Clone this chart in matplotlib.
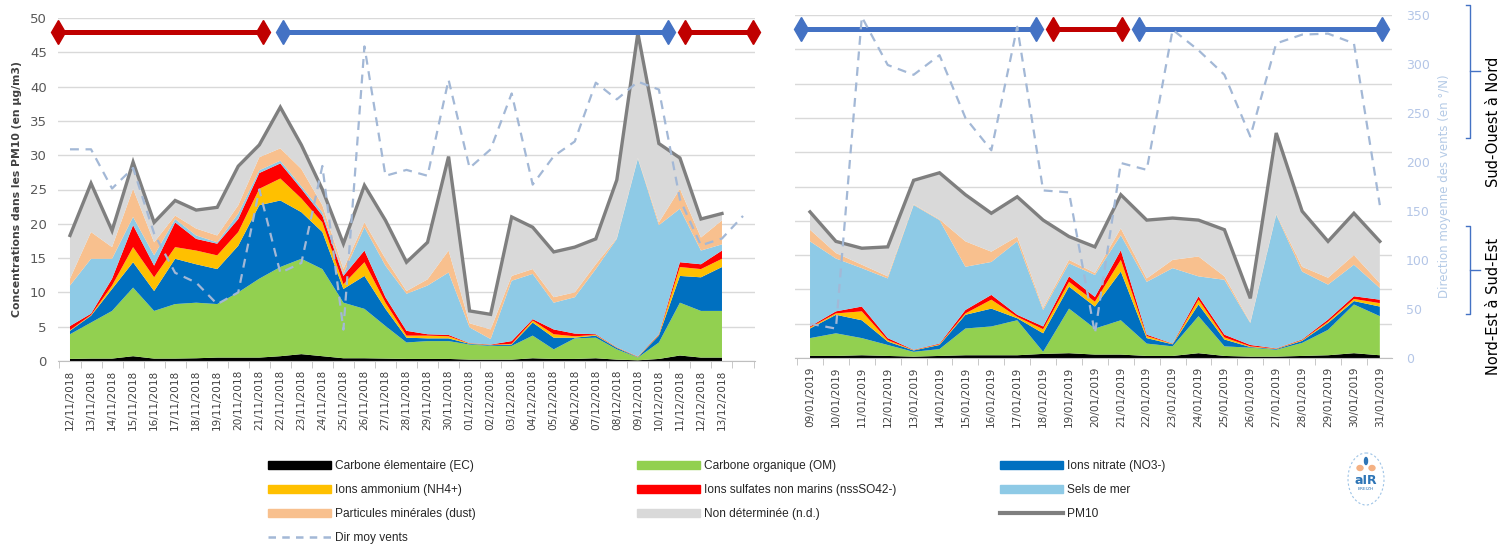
import matplotlib
matplotlib.use("Agg")
import matplotlib.pyplot as plt
import matplotlib.transforms as mtransforms
from matplotlib.lines import Line2D
from matplotlib.patches import Patch, Ellipse
import numpy as np
import pandas as pd

# ---- categories -----------------------------------------------------------
dates_left = list(pd.date_range("2018-11-12", "2018-12-13").strftime("%d/%m/%Y"))
dates_right = list(pd.date_range("2019-01-09", "2019-01-31").strftime("%d/%m/%Y"))

# ---- left period (µg/m3 per component) ------------------------------------
ec_l = [0.3, 0.35, 0.35, 0.7, 0.35, 0.35, 0.4, 0.5, 0.5, 0.5, 0.7, 1.0, 0.7, 0.4, 0.4, 0.35,
        0.3, 0.3, 0.3, 0.2, 0.2, 0.2, 0.4, 0.3, 0.3, 0.4, 0.2, 0.1, 0.3, 0.8, 0.5, 0.5]
om_l = [3.6, 5.25, 6.95, 10.0, 6.95, 7.95, 8.1, 7.8, 9.5, 11.5, 13.0, 13.9, 12.7, 8.1, 7.2, 4.75,
        2.4, 2.6, 2.6, 2.2, 2.0, 2.0, 3.3, 1.4, 3.0, 3.0, 1.5, 0.4, 2.4, 7.7, 6.8, 6.8]
no3_l = [0.5, 1.0, 3.2, 3.7, 2.9, 6.6, 5.6, 5.1, 6.8, 10.7, 9.7, 6.8, 5.4, 2.0, 4.8, 2.5,
         0.7, 0.4, 0.4, 0.1, 0.1, 0.2, 1.9, 1.7, 0.1, 0.3, 0.2, 0.05, 1.0, 3.9, 4.9, 6.4]
nh4_l = [0.1, 0.1, 0.5, 2.2, 2.0, 1.7, 2.0, 2.0, 2.0, 2.4, 3.2, 2.0, 1.4, 0.7, 2.0, 0.9,
         0.3, 0.4, 0.3, 0.05, 0.05, 0.1, 0.3, 0.5, 0.2, 0.1, 0.05, 0.05, 0.1, 1.3, 1.2, 1.2]
so4_l = [0.6, 0.2, 1.0, 3.2, 1.7, 3.6, 1.7, 1.7, 1.9, 2.3, 2.2, 1.4, 1.0, 1.2, 1.7, 0.8,
         0.7, 0.2, 0.2, 0.05, 0.05, 0.4, 0.2, 0.7, 0.4, 0.1, 0.05, 0.05, 0.1, 0.7, 0.7, 1.2]
sel_l = [5.9, 8.0, 2.9, 1.2, 1.5, 0.5, 0.5, 0.2, 0.8, 0.4, 0.4, 0.4, 0.5, 0.3, 3.4, 4.6,
         5.4, 7.1, 9.1, 2.3, 0.8, 8.8, 6.6, 3.9, 5.3, 9.5, 15.8, 28.85, 15.9, 7.8, 2.0, 0.9]
dust_l = [1.0, 3.9, 1.7, 4.1, 1.9, 0.5, 1.0, 1.0, 1.2, 1.9, 1.8, 2.5, 1.0, 0.7, 0.7, 1.0,
          0.4, 0.9, 3.2, 0.6, 1.4, 0.7, 0.7, 0.8, 0.7, 0.7, 0.1, 0.1, 0.4, 2.9, 1.9, 3.5]
nd_l = [6.3, 7.1, 2.4, 3.9, 2.9, 2.2, 2.7, 4.1, 5.7, 1.8, 6.0, 3.5, 2.3, 3.7, 5.4, 5.6,
        4.2, 5.4, 13.7, 1.8, 2.2, 8.6, 6.1, 6.6, 6.6, 3.7, 8.5, 18.2, 11.5, 4.5, 2.7, 1.0]
wind_l = [216, 216, 176, 197, 130, 90, 80, 58, 70, 175, 90, 100, 199, 32, 321, 189, 195,
          189, 287, 197, 216, 273, 180, 209, 224, 284, 267, 285, 277, 165, 118, 125, 148]

# ---- right period ---------------------------------------------------------
ec_r = [0.3, 0.3, 0.4, 0.3, 0.2, 0.3, 0.4, 0.4, 0.4, 0.6, 0.7, 0.5, 0.5, 0.3, 0.3, 0.7,
        0.3, 0.2, 0.2, 0.3, 0.4, 0.7, 0.4]
om_r = [2.6, 3.3, 2.5, 1.6, 0.7, 1.0, 3.9, 4.2, 5.1, 0.3, 6.5, 3.8, 5.0, 1.8, 1.4, 5.4,
        1.4, 1.3, 1.0, 1.9, 3.7, 7.1, 5.7]
no3_r = [1.4, 2.7, 2.6, 0.5, 0.2, 0.6, 2.0, 2.6, 0.3, 2.7, 3.2, 3.2, 7.1, 0.8, 0.3, 1.7,
         1.0, 0.1, 0.1, 0.3, 1.0, 0.5, 1.4]
nh4_r = [0.15, 0.2, 1.3, 0.2, 0.05, 0.1, 0.2, 1.3, 0.2, 0.6, 0.7, 0.7, 1.7, 0.3, 0.05, 0.7,
         0.3, 0.1, 0.05, 0.1, 0.2, 0.3, 0.5]
so4_r = [0.15, 0.3, 0.7, 0.3, 0.05, 0.1, 0.5, 0.7, 0.3, 0.4, 0.8, 0.7, 1.4, 0.2, 0.05, 0.5,
         0.4, 0.2, 0.05, 0.1, 0.3, 0.4, 0.5]
sel_r = [12.4, 7.7, 5.6, 8.7, 21.1, 18.0, 6.3, 4.8, 10.7, 2.4, 1.9, 3.2, 2.2, 7.7, 11.0, 2.9,
         8.0, 3.2, 19.5, 9.9, 5.1, 4.6, 1.7]
dust_r = [1.7, 0.8, 0.5, 0.3, 0.1, 0.1, 3.7, 1.5, 0.7, 0.3, 0.5, 0.3, 1.0, 0.5, 1.2, 2.9,
          0.5, 0.1, 0.1, 0.7, 1.0, 1.4, 0.7]
nd_r = [2.6, 1.7, 2.4, 4.3, 3.5, 6.8, 6.8, 5.6, 5.8, 12.8, 3.4, 3.8, 4.9, 8.5, 6.1, 5.3,
        6.8, 3.5, 11.8, 8.1, 5.3, 6.1, 6.1]
wind_r = [35, 30, 348, 299, 289, 309, 245, 212, 338, 171, 169, 25, 199, 192, 335, 314,
          289, 226, 321, 330, 331, 321, 156]

# wind regime periods (category positions): start, end, regime
periods_l = [(-0.57, 9.18, "SO-N"), (10.13, 28.44, "NE-SE"), (29.24, 32.48, "SO-N")]
periods_r = [(-0.35, 8.73, "NE-SE"), (9.38, 12.05, "SO-N"), (12.7, 22.08, "NE-SE")]

labels = ["Carbone élementaire (EC)", "Carbone organique (OM)", "Ions nitrate (NO3-)",
          "Ions ammonium (NH4+)", "Ions sulfates non marins (nssSO42-)", "Sels de mer",
          "Particules minérales (dust)", "Non déterminée (n.d.)"]
colors = ["#000000", "#92d050", "#0070c0", "#ffc000", "#ff0000", "#8ecae6",
          "#f8c08e", "#d9d9d9"]
period_colors = {"SO-N": "#c00000", "NE-SE": "#4472c4"}
PM_COLOR = "#7f7f7f"
WIND_COLOR = "#a3b8d6"
GRID = "#d9d9d9"

W, H = 1508, 548
fig = plt.figure(figsize=(W / 100, H / 100), dpi=100)


def px_rect(x0, y0, x1, y1):
    return [x0 / W, 1 - y1 / H, (x1 - x0) / W, (y1 - y0) / H]


def draw_panel(rect, xlim, dates, n_slots, layers, wind, periods, show_left, show_right):
    ax = fig.add_axes(rect)
    x = np.arange(len(layers[0]))
    ax.stackplot(x, *layers, colors=colors, linewidth=0)
    pm10 = np.sum(layers, axis=0)
    ax.plot(x, pm10, color=PM_COLOR, lw=2.4, solid_joinstyle="miter", zorder=5)
    for start, end, key in periods:
        ax.plot([start, end], [48, 48], color=period_colors[key], lw=3.6,
                marker="d", markersize=12, zorder=6, clip_on=False)
    ax.set_xlim(*xlim)
    ax.set_ylim(0, 50)
    ax.set_yticks(np.arange(0, 51, 5))
    ax.yaxis.grid(True, color=GRID, lw=1)
    ax.set_axisbelow(True)
    for side in ("left", "right", "top"):
        ax.spines[side].set_visible(False)
    ax.spines["bottom"].set_color("#bfbfbf")
    ax.set_xticks(np.arange(len(dates)))
    ax.set_xticklabels(dates, rotation=90, fontsize=7.6, color="#404040")
    ax.set_xticks(np.arange(n_slots + 1) - 0.5, minor=True)
    ax.tick_params(axis="x", which="major", length=0, pad=6)
    ax.tick_params(axis="x", which="minor", length=5, color="#bfbfbf")
    ax.tick_params(axis="y", length=0, labelsize=9.5, labelcolor="#595959", pad=8)
    if not show_left:
        ax.tick_params(axis="y", labelleft=False)

    ax2 = ax.twinx()
    ax2.plot(np.arange(len(wind)), wind, color=WIND_COLOR, lw=1.6, dashes=(4, 3))
    ax2.set_ylim(0, 350)
    ax2.set_xlim(*xlim)
    for s in ax2.spines.values():
        s.set_visible(False)
    if show_right:
        ax2.set_yticks(np.arange(0, 351, 50))
        ax2.tick_params(axis="y", length=0, labelsize=9, labelcolor="#b4c6e7", pad=10)
        ax2.set_ylabel("Direction moyenne des vents (en °/N)", color="#b4cae6",
                       fontsize=8.5, labelpad=6)
    else:
        ax2.set_yticks([])
    return ax, ax2


layers_l = [ec_l, om_l, no3_l, nh4_l, so4_l, sel_l, dust_l, nd_l]
layers_r = [ec_r, om_r, no3_r, nh4_r, so4_r, sel_r, dust_r, nd_r]

axl, _ = draw_panel(px_rect(58, 18, 755, 361), (-0.57, 32.57), dates_left, len(wind_l),
                    layers_l, wind_l, periods_l, True, False)
axl.set_ylabel("Concentrations dans les PM10 (en µg/m3)", fontsize=7.8, color="#404040",
               fontweight="bold", labelpad=6)

axr, axr2 = draw_panel(px_rect(795, 15, 1392, 358), (-0.58, 22.47), dates_right,
                       len(wind_r), layers_r, wind_r, periods_r, False, True)

# wind-sector brackets on the right
tr = mtransforms.blended_transform_factory(fig.transFigure, axr2.transData)
bx = 1470 / W
for lo, hi, txt, ty in [(225, 360, "Sud-Ouest à Nord", 122), (45, 135, "Nord-Est à Sud-Est", 306)]:
    mid = (lo + hi) / 2
    fig.add_artist(Line2D([bx - 4 / W, bx, bx, bx - 4 / W], [hi, hi, lo, lo],
                          transform=tr, color="#4472c4", lw=1))
    fig.add_artist(Line2D([bx, bx + 10 / W], [mid, mid], transform=tr,
                          color="#4472c4", lw=1))
    fig.text(1493 / W, 1 - ty / H, txt, rotation=90, ha="center", va="center",
             fontsize=10.5, color="#000000")

# legend, three columns
handles = [Patch(color=c) for c in colors]
pm_handle = Line2D([], [], color=PM_COLOR, lw=3)
wind_handle = Line2D([], [], color=WIND_COLOR, lw=1.8, dashes=(3, 2.5))
columns = [
    ([handles[0], handles[3], handles[6], wind_handle],
     [labels[0], labels[3], labels[6], "Dir moy vents"], 268),
    ([handles[1], handles[4], handles[7]], [labels[1], labels[4], labels[7]], 637),
    ([handles[2], handles[5], pm_handle], [labels[2], labels[5], "PM10"], 1000),
]
for hs, ls, x0 in columns:
    fig.legend(hs, ls, loc="upper left", bbox_to_anchor=(x0 / W, 1 - 460 / H),
               frameon=False, borderpad=0, borderaxespad=0, handlelength=5.3,
               handleheight=0.65, handletextpad=0.35, labelspacing=1.0,
               prop={"family": "Liberation Sans", "size": 8.6}, labelcolor="#262626")

# small logo
logo_ax = fig.add_axes(px_rect(1346, 452, 1386, 506))
logo_ax.set_xlim(0, 40)
logo_ax.set_ylim(54, 0)
logo_ax.axis("off")
logo_ax.add_patch(Ellipse((20, 27), 36, 52, fill=False, ec="#9dc3e6", lw=0.8, ls=(0, (2, 2))))
logo_ax.add_patch(Ellipse((20, 9), 3, 7, color="#2e75b6"))
logo_ax.add_patch(Ellipse((14, 16), 6, 5, color="#f4b183"))
logo_ax.add_patch(Ellipse((26, 16), 6, 5, color="#f4b183"))
logo_ax.text(20, 28, "aIR", ha="center", va="center", fontsize=9, color="#2e75b6",
             fontweight="bold")
logo_ax.text(20, 37, "BREIZH", ha="center", va="center", fontsize=3.2, color="#2e75b6")

fig.savefig("out.png", dpi=100)
